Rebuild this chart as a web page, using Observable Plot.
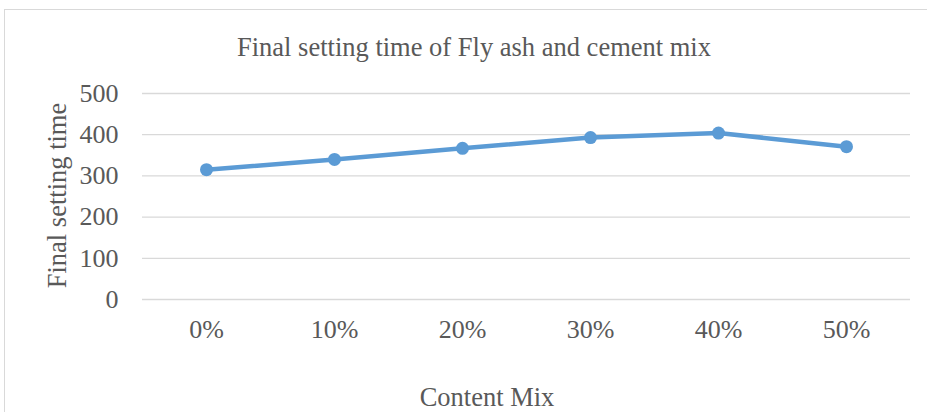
<!DOCTYPE html>
<html>
<head>
<meta charset="utf-8">
<script src="https://cdn.jsdelivr.net/npm/d3@7"></script>
<script src="https://cdn.jsdelivr.net/npm/@observablehq/plot@0.6"></script>
<style>
  html, body { margin: 0; padding: 0; background: #fff; overflow: hidden; }
  #wrap { position: relative; width: 927px; height: 412px; }
  #border { position: absolute; left: 4px; top: 9px; width: 940px; height: 420px; border: 1px solid #d9d9d9; box-sizing: border-box; }
  #chart { position: absolute; left: 0; top: 0; }
</style>
</head>
<body>
<div id="wrap"><div id="border"></div><div id="chart"></div></div>
<script>
const categories = ["0%", "10%", "20%", "30%", "40%", "50%"];
const finalSettingTime = [315, 340, 367, 393, 404, 371];
const yTicks = [0, 100, 200, 300, 400, 500];
const titleText = "Final setting time of Fly ash and cement mix";
const yLabel = "Final setting time";
const xLabel = "Content Mix";

const data = categories.map((c, i) => ({cat: c, value: finalSettingTime[i]}));
const font = "Liberation Serif, Times New Roman, serif";
const txt = "#595959";

const chart = Plot.plot({
  width: 927,
  height: 412,
  marginTop: 93,
  marginBottom: 113,
  marginLeft: 142,
  marginRight: 17,
  style: {fontFamily: font, fontSize: "26px", color: txt, background: "transparent"},
  x: {type: "point", domain: categories, padding: 0.5},
  y: {domain: [0, 500]},
  marks: [
    Plot.ruleY(yTicks, {stroke: "#d9d9d9", strokeWidth: 1.3}),
    Plot.axisY({ticks: yTicks, tickSize: 0, tickPadding: 24, label: null, fontSize: 26, fill: txt}),
    Plot.axisX({tickSize: 0, tickPadding: 20, label: null, fontSize: 26, fill: txt}),
    Plot.line(data, {x: "cat", y: "value", stroke: "#5b9bd5", strokeWidth: 4.5}),
    Plot.dot(data, {x: "cat", y: "value", fill: "#5b9bd5", r: 6.5}),
    Plot.text([titleText], {frameAnchor: "top", lineAnchor: "middle", dy: -46, dx: -52.5, text: d => d, fontSize: 26.5, fill: txt}),
    Plot.text([yLabel], {frameAnchor: "left", textAnchor: "middle", lineAnchor: "middle", dx: -85, dy: -1, rotate: -90, text: d => d, fontSize: 26.5, fill: txt}),
    Plot.text([xLabel], {frameAnchor: "bottom", lineAnchor: "middle", dy: 98, dx: -39.5, text: d => d, fontSize: 26.5, fill: txt})
  ]
});
document.getElementById("chart").appendChild(chart);
</script>
</body>
</html>
